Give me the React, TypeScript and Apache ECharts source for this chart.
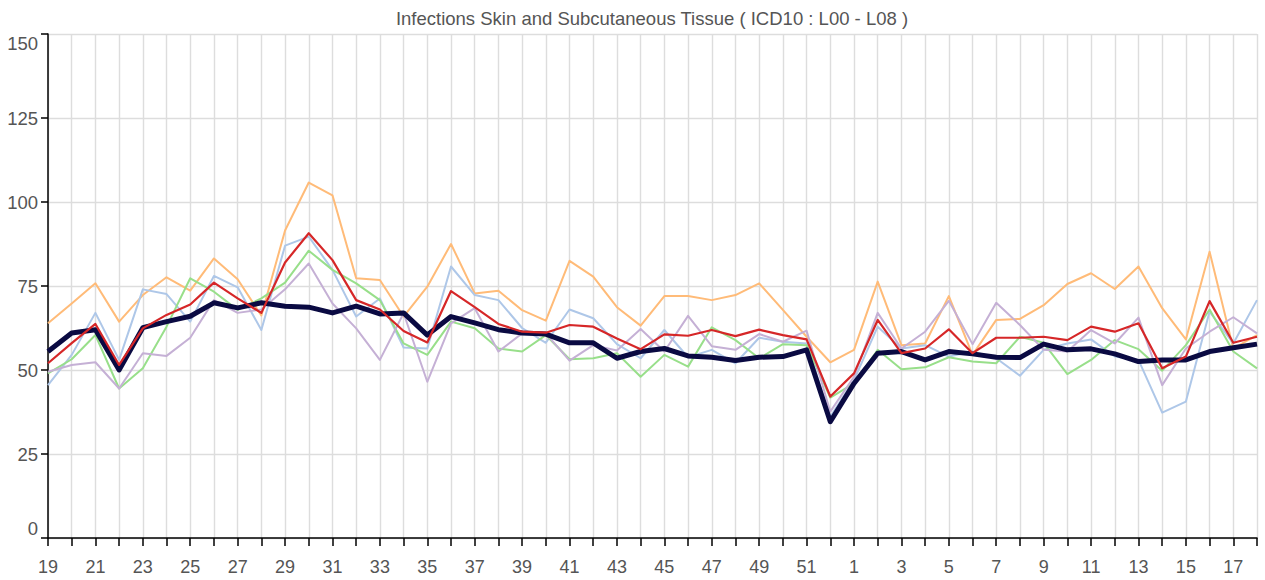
import React, { useEffect, useRef } from "react";
import * as echarts from "echarts";

const weeks: string[] = [
  "19", "20", "21", "22", "23", "24", "25", "26", "27", "28", "29", "30", "31", "32", "33", "34", "35",
  "36", "37", "38", "39", "40", "41", "42", "43", "44", "45", "46", "47", "48", "49", "50", "51", "52",
  "1", "2", "3", "4", "5", "6", "7", "8", "9", "10", "11", "12", "13", "14", "15", "16", "17", "18",
];

const seriesNavy: number[] = [
  55.5, 61, 62, 50, 62.6, 64.4, 66, 70, 68.5, 70, 69, 68.7, 67, 69, 66.7, 67, 60.4,
  65.9, 64, 62, 61, 60.7, 58.1, 58.1, 53.5, 55.5, 56.4, 54.2, 53.8, 52.8, 53.8, 54, 56, 34.6,
  46, 55, 55.5, 53, 55.5, 54.8, 53.8, 53.7, 57.7, 56, 56.3, 54.8, 52.5, 53, 53, 55.5, 56.6, 57.7,
];

const seriesOrange: number[] = [
  63.9, 69.8, 75.8, 64.4, 72.3, 77.6, 73.6, 83.2, 77, 66.2, 91.5, 105.8, 102, 77.3, 76.8, 65.9, 74.8,
  87.5, 72.8, 73.6, 67.8, 64.7, 82.5, 77.8, 68.7, 63.2, 72, 72, 70.8, 72.3, 75.8, 67.9, 59.9, 52.3,
  56, 76.3, 57.4, 57.9, 72, 54.5, 64.9, 65.2, 69.3, 75.6, 78.8, 74.1, 80.8, 68.4, 59.1, 85.2, 56.4, 60.4,
];

const seriesBlue: number[] = [
  45.5, 54.5, 67, 53, 74, 72.6, 64.4, 78, 74.6, 61.9, 87, 89.7, 79.8, 65.9, 71.3, 56.7, 56.4,
  80.8, 72.3, 70.8, 62.5, 58.1, 68, 65.4, 57.7, 53.5, 61.9, 53.8, 56, 52, 59.6, 58.4, 57.9, 36.1,
  47, 62.9, 56.4, 57.4, 54, 55.5, 53.5, 48.3, 56, 57.9, 59.1, 54, 53, 37.3, 40.6, 67.4, 57.9, 70.8,
];

const seriesGreen: number[] = [
  49, 53.2, 60.4, 44.5, 50.5, 62.9, 77.3, 73.3, 67.9, 71.3, 76, 85.5, 79.8, 75.8, 70.8, 57.9, 54.5,
  64.4, 62.4, 56.4, 55.5, 60.4, 53.2, 53.5, 55, 48, 54.5, 51, 62.7, 58.9, 53.5, 57.7, 57.4, 41.8,
  46, 56, 50.2, 50.8, 53.8, 52.5, 52, 59.9, 58.1, 48.8, 53, 58.9, 56.2, 49.8, 57.4, 68, 55.5, 50.5,
];

const seriesPurple: number[] = [
  49.5, 51.5, 52.3, 44.5, 55, 54.2, 59.6, 70.8, 67, 68, 74, 81.7, 69.8, 62.4, 53, 66.9, 46.5,
  63.9, 68.4, 55.5, 60.9, 60.9, 52.8, 57.4, 55.8, 62.2, 55.5, 66.1, 57.1, 56, 60.7, 58.4, 61.7, 37.6,
  48, 67, 56.4, 61.4, 70.6, 57.7, 70, 63.4, 56, 55.5, 61.9, 57.9, 65.6, 45.5, 56.4, 61.4, 65.7, 60.9,
];

const seriesRed: number[] = [
  52, 58, 63.7, 51.5, 62.4, 66.4, 69.5, 76, 71.3, 67, 82, 90.7, 82.7, 70.8, 68, 61.6, 58.2,
  73.5, 68.7, 63.7, 61.4, 61.1, 63.4, 62.9, 59.4, 56.2, 60.6, 60.2, 61.9, 60.1, 62, 60.4, 59.1, 42.1,
  49, 64.9, 55, 56.4, 62.1, 55, 59.6, 59.6, 59.9, 58.9, 62.9, 61.4, 63.9, 50.5, 54, 70.5, 58.1, 59.9,
];

const yTicks = { min: 0, max: 150, interval: 25 };
const titleText = "Infections Skin and Subcutaneous Tissue ( ICD10 : L00 - L08 )";

export default function App() {
  const ref = useRef<HTMLDivElement>(null);

  useEffect(() => {
    if (!ref.current) return;
    const chart = echarts.init(ref.current, undefined, { renderer: "svg" });
    const font = "Liberation Sans, Arial, Helvetica, sans-serif";
    const mk = (name: string, data: number[], color: string, width: number, z: number) => ({
      name,
      type: "line",
      data,
      symbol: "none",
      showSymbol: false,
      z,
      lineStyle: { color, width, join: "round" },
      itemStyle: { color },
      emphasis: { disabled: true },
    });
    chart.setOption({
      animation: false,
      backgroundColor: "#ffffff",
      textStyle: { fontFamily: font },
      graphic: [
        {
          type: "text",
          x: 652,
          y: 18,
          style: {
            text: titleText,
            fill: "#555555",
            font: `18.5px ${font}`,
            textAlign: "center",
            textVerticalAlign: "middle",
          },
        },
      ],
      grid: { left: 48, right: 8, top: 34, bottom: 42, containLabel: false },
      xAxis: {
        type: "category",
        data: weeks,
        boundaryGap: false,
        axisLine: { show: true, lineStyle: { color: "#000000", width: 1.5 } },
        axisTick: { show: true, interval: 0, length: 8, lineStyle: { color: "#000000", width: 1.5 } },
        axisLabel: { interval: 1, color: "#555555", fontSize: 18, margin: 20, fontFamily: font },
        splitLine: { show: true, interval: 0, lineStyle: { color: "#dddddd", width: 1.4 } },
      },
      yAxis: {
        type: "value",
        min: yTicks.min,
        max: yTicks.max,
        interval: yTicks.interval,
        axisLine: { show: true, lineStyle: { color: "#000000", width: 1.5 } },
        axisTick: { show: true, length: 7, lineStyle: { color: "#000000", width: 1.5 } },
        axisLabel: {
          color: "#555555",
          fontSize: 18.5,
          margin: 10,
          fontFamily: font,
          verticalAlignMinLabel: "bottom",
          verticalAlignMaxLabel: "top",
        },
        splitLine: { show: true, lineStyle: { color: "#dddddd", width: 1.4 } },
      },
      series: [
        mk("A", seriesOrange, "#ffbb78", 2, 2),
        mk("B", seriesBlue, "#aec7e8", 2, 3),
        mk("C", seriesGreen, "#98df8a", 2, 4),
        mk("D", seriesPurple, "#c5b0d5", 2, 5),
        mk("Current", seriesNavy, "#0a0a42", 5, 6),
        mk("E", seriesRed, "#d62728", 2.2, 7),
      ],
    });
    return () => chart.dispose();
  }, []);

  return (
    <div
      ref={ref}
      style={{ position: "absolute", left: 0, top: 0, width: 1265, height: 580 }}
    />
  );
}
